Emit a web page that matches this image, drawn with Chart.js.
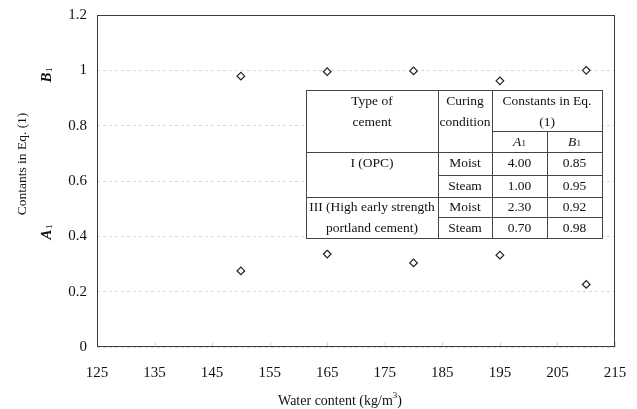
<!DOCTYPE html>
<html>
<head>
<meta charset="utf-8">
<script src="https://cdn.jsdelivr.net/npm/chart.js@4.4.0/dist/chart.umd.min.js"></script>
<style>
  html, body { margin: 0; padding: 0; background: #fff; }
  #wrap { width: 637px; height: 409px; }
</style>
</head>
<body>
<div id="wrap"><canvas id="constChart"></canvas></div>
<script>
// data
const waterContent = [150, 165, 180, 195, 210];
const b1Values = [0.979, 0.995, 0.998, 0.962, 1.0];
const a1Values = [0.275, 0.336, 0.304, 0.332, 0.226];
const xTickValues = [125, 135, 145, 155, 165, 175, 185, 195, 205, 215];

// inset table
const cementLines = [["I (OPC)"], ["III (High early strength", "portland cement)"]];
const curingRows = ["Moist", "Steam", "Moist", "Steam"];
const tableA1 = ["4.00", "1.00", "2.30", "0.70"];
const tableB1 = ["0.85", "0.95", "0.92", "0.98"];

const SERIF = "'Liberation Serif', 'Times New Roman', serif";

function toPoints(xs, ys) {
  return xs.map((x, i) => ({ x: x, y: ys[i] }));
}

// text with a subscript (or superscript) piece, drawn left to right from x
function subText(ctx, x, y, main, sub, font, subFont, shift) {
  ctx.font = font;
  ctx.fillText(main, x, y);
  const w = ctx.measureText(main).width;
  ctx.font = subFont;
  ctx.fillText(sub, x + w + 0.5, y + shift);
  return w + 0.5 + ctx.measureText(sub).width;
}

function centeredSub(ctx, cx, y, main, sub, font, subFont, shift) {
  ctx.font = font;
  const w1 = ctx.measureText(main).width;
  ctx.font = subFont;
  const w2 = ctx.measureText(sub).width;
  ctx.textAlign = "left";
  subText(ctx, cx - (w1 + w2 + 0.5) / 2, y, main, sub, font, subFont, shift);
  ctx.textAlign = "center";
}

const overlay = {
  id: "overlay",
  afterDraw(chart) {
    const { ctx, chartArea: ca, scales } = chart;
    ctx.save();

    // faint inner tick marks along the bottom
    ctx.strokeStyle = "#d6d6d6";
    ctx.lineWidth = 1;
    xTickValues.forEach((v) => {
      const x = Math.round(scales.x.getPixelForValue(v)) + 0.5;
      ctx.beginPath();
      ctx.moveTo(x, ca.bottom);
      ctx.lineTo(x, ca.bottom - 5);
      ctx.stroke();
    });

    // plot frame
    ctx.strokeStyle = "#3c3c3c";
    ctx.strokeRect(Math.round(ca.left) + 0.5, Math.round(ca.top) + 0.5,
      Math.round(ca.width) - 1, Math.round(ca.height) - 1);

    // inset table
    const L = 306, T = 90, R = 602, B = 238;
    const c1 = 438, c2 = 492, c3 = 547;
    const r = [131, 152, 175, 197, 217];
    ctx.fillStyle = "#fff";
    ctx.fillRect(L, T, R - L, B - T);
    ctx.strokeStyle = "#444";
    ctx.lineWidth = 1;
    const line = (x1, y1, x2, y2) => {
      ctx.beginPath();
      ctx.moveTo(x1 + 0.5, y1 + 0.5);
      ctx.lineTo(x2 + 0.5, y2 + 0.5);
      ctx.stroke();
    };
    ctx.strokeRect(L + 0.5, T + 0.5, R - L, B - T);
    line(c1, T, c1, B);
    line(c2, T, c2, B);
    line(c3, r[0], c3, B);
    line(c2, r[0], R, r[0]);
    line(L, r[1], R, r[1]);
    line(c1, r[2], R, r[2]);
    line(L, r[3], R, r[3]);
    line(c1, r[4], R, r[4]);

    const m1 = (L + c1) / 2, m2 = (c1 + c2) / 2, m3 = (c2 + c3) / 2, m4 = (c3 + R) / 2;
    const font = "13.5px " + SERIF;
    ctx.fillStyle = "#111";
    ctx.textAlign = "center";
    ctx.textBaseline = "middle";
    ctx.font = font;
    ctx.fillText("Type of", m1, 101);
    ctx.fillText("cement", m1, 122);
    ctx.fillText("Curing", m2, 101);
    ctx.fillText("condition", m2, 122);
    ctx.fillText("Constants in Eq.", (c2 + R) / 2, 101);
    ctx.fillText("(1)", (c2 + R) / 2, 122);
    centeredSub(ctx, m3, 142, "A", "1", "italic 13.5px " + SERIF, "9px " + SERIF, 2);
    centeredSub(ctx, m4, 142, "B", "1", "italic 13.5px " + SERIF, "9px " + SERIF, 2);

    const rowY = [163.5, 186, 207, 228];
    ctx.font = font;
    ctx.fillText(cementLines[0][0], m1, rowY[0]);
    ctx.fillText(cementLines[1][0], m1, rowY[2]);
    ctx.fillText(cementLines[1][1], m1, rowY[3]);
    curingRows.forEach((c, i) => {
      ctx.fillText(c, m2, rowY[i]);
      ctx.fillText(tableA1[i], m3, rowY[i]);
      ctx.fillText(tableB1[i], m4, rowY[i]);
    });

    // y axis titles
    ctx.fillStyle = "#111";
    ctx.save();
    ctx.translate(22, 164);
    ctx.rotate(-Math.PI / 2);
    ctx.font = "13.5px " + SERIF;
    ctx.fillText("Contants in Eq. (1)", 0, 0);
    ctx.restore();

    [["B", 75], ["A", 232]].forEach(([letter, y]) => {
      ctx.save();
      ctx.translate(47, y);
      ctx.rotate(-Math.PI / 2);
      centeredSub(ctx, 0, 0, letter, "1", "bold italic 15px " + SERIF, "9px " + SERIF, 3);
      ctx.restore();
    });

    // x axis title with superscript
    const pre = "Water content (kg/m", sup = "3", post = ")";
    const tf = "14px " + SERIF, sf = "9px " + SERIF;
    ctx.font = tf;
    const w1 = ctx.measureText(pre).width, w3 = ctx.measureText(post).width;
    ctx.font = sf;
    const w2 = ctx.measureText(sup).width;
    let x = 340 - (w1 + w2 + w3) / 2;
    ctx.textAlign = "left";
    ctx.font = tf;
    ctx.fillText(pre, x, 401);
    ctx.font = sf;
    ctx.fillText(sup, x + w1, 396);
    ctx.font = tf;
    ctx.fillText(post, x + w1 + w2, 401);

    ctx.restore();
  },
};

const marker = {
  showLine: false,
  pointStyle: "rectRot",
  pointRadius: 3.8,
  pointBorderWidth: 1.2,
  pointBorderColor: "#222",
  pointBackgroundColor: "#fff",
};

new Chart(document.getElementById("constChart"), {
  type: "scatter",
  data: {
    datasets: [
      Object.assign({ label: "B1", data: toPoints(waterContent, b1Values) }, marker),
      Object.assign({ label: "A1", data: toPoints(waterContent, a1Values) }, marker),
    ],
  },
  options: {
    responsive: true,
    maintainAspectRatio: false,
    animation: false,
    layout: { padding: { top: 15, right: 22, bottom: 0, left: 0 } },
    plugins: {
      legend: { display: false },
      tooltip: { enabled: false },
    },
    scales: {
      x: {
        type: "linear",
        min: 125,
        max: 215,
        afterBuildTicks: (s) => { s.ticks = xTickValues.map((v) => ({ value: v })); },
        afterFit: (s) => {
          s.height = 62;
          s.paddingLeft = 0;
          s.paddingRight = 0;
        },
        grid: { display: false },
        border: { display: false },
        ticks: { color: "#111", padding: 9, maxRotation: 0, font: { family: SERIF, size: 15 } },
      },
      y: {
        min: 0,
        max: 1.2,
        afterFit: (s) => {
          s.width = 97;
          s.paddingTop = 0;
          s.paddingBottom = 0;
        },
        grid: { color: "#d8d8d8", drawTicks: false },
        border: { display: false, dash: [3, 3] },
        ticks: {
          stepSize: 0.2,
          color: "#111",
          padding: 10,
          font: { family: SERIF, size: 15 },
          callback: (v) => String(Math.round(v * 10) / 10),
        },
      },
    },
  },
  plugins: [overlay],
});
</script>
</body>
</html>
